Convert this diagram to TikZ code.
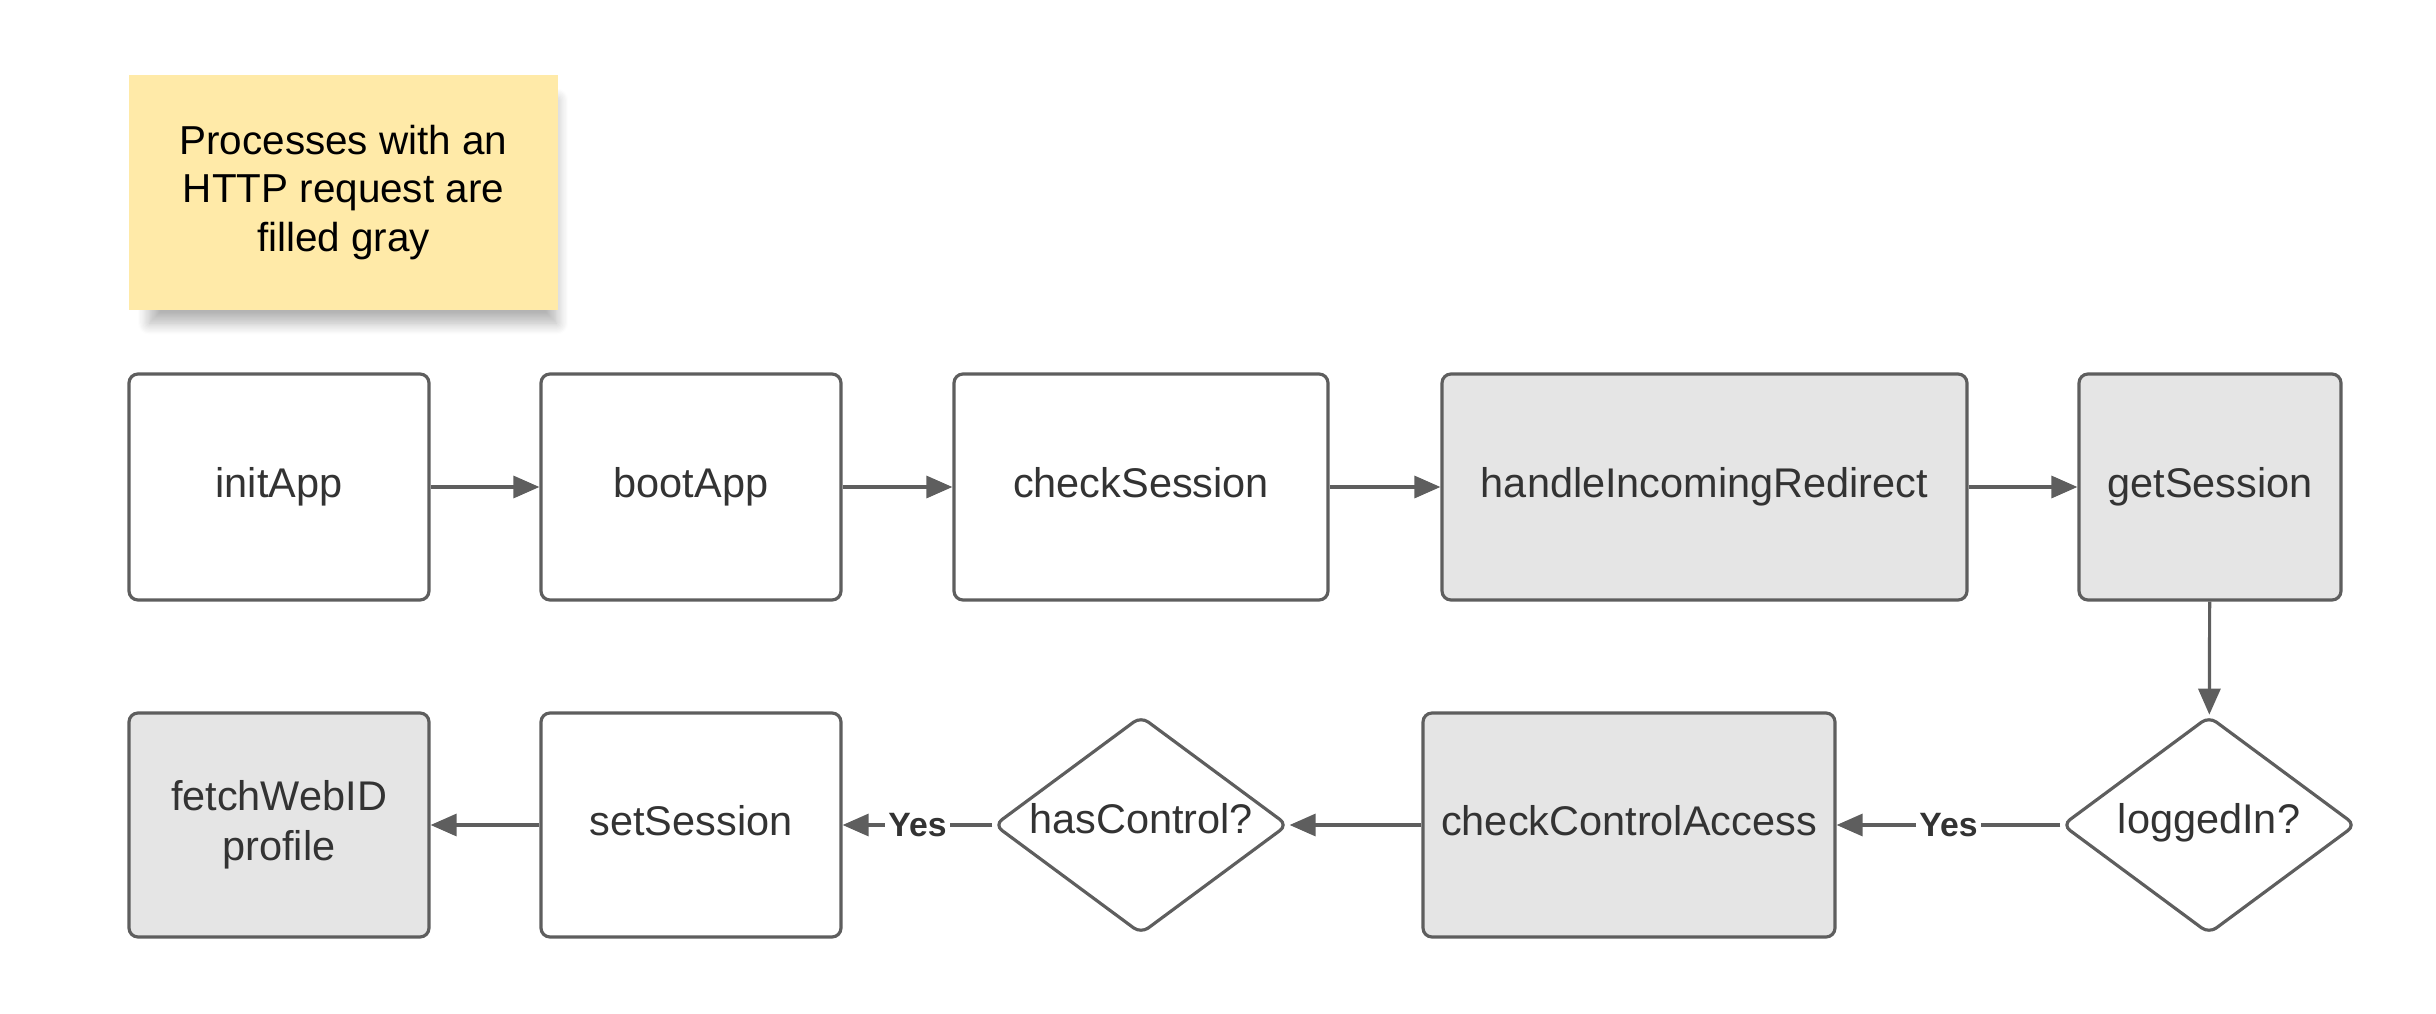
\documentclass[tikz,border=0pt]{standalone}
\usepackage{fontspec}
\setmainfont{Liberation Sans}
\usepackage{tikz}
\usetikzlibrary{arrows.meta, positioning, shapes.geometric, shadows.blur}

\definecolor{lineclr}{RGB}{94,94,94}
\definecolor{textclr}{RGB}{51,51,51}
\definecolor{httpfill}{RGB}{229,229,229}
\definecolor{notefill}{RGB}{255,234,168}

\begin{document}
\begin{tikzpicture}[
    proc/.style={draw=lineclr, line width=0.9pt, rectangle, rounded corners=0.09cm, align=center,
                 minimum height=2.26cm, text=textclr, font=\fontsize{11.8}{14.2}\selectfont, fill=white,
                 text height=0.30cm, text depth=0.09cm},
    http/.style={proc, fill=httpfill},
    cond/.style={draw=lineclr, line width=0.9pt, diamond, rounded corners=0.09cm, inner sep=0pt,
                 minimum width=2.94cm, minimum height=2.18cm, text=textclr,
                 font=\fontsize{11.8}{14.2}\selectfont, fill=white,
                 text height=0.30cm, text depth=0.13cm, text width=0pt},
    note/.style={rectangle, fill=notefill, align=center, minimum width=4.29cm, minimum height=2.35cm,
                 font=\fontsize{11.5}{13.8}\selectfont,
                 blur shadow={shadow xshift=0.1cm, shadow yshift=-0.2cm, shadow scale=0.95,
                              shadow blur steps=10, shadow blur radius=0.12cm, shadow opacity=30}},
    flow/.style={-{Triangle[length=0.26cm, width=0.22cm]}, draw=lineclr, line width=0.9pt},
    yes/.style={fill=white, inner sep=1pt, text=textclr, font=\fontsize{9.6}{11}\selectfont\bfseries}
]
\useasboundingbox (0,0) rectangle (24.36,-10.13);

\node[note] (key) at (3.435,-1.925) {Processes with an\\HTTP request are\\filled gray};

% first row
\node[proc, minimum width=3.00cm] (init)  at ( 2.79,-4.87) {initApp};
\node[proc, minimum width=3.00cm] (boot)  at ( 6.91,-4.87) {bootApp};
\node[proc, minimum width=3.74cm] (check) at (11.41,-4.87) {checkSession};
\node[http, minimum width=5.25cm] (redir) at (17.045,-4.87) {handleIncomingRedirect};
\node[http, minimum width=2.62cm] (getss) at (22.10,-4.87) {getSession};

% second row
\node[cond] (logged) at (22.09,-8.25) {\makebox[0pt]{loggedIn?}};
\node[http, minimum width=4.12cm, minimum height=2.24cm] (access) at (16.29,-8.25) {checkControlAccess};
\node[cond] (hasctl) at (11.41,-8.25) {\makebox[0pt]{hasControl?}};
\node[proc, minimum width=3.00cm, minimum height=2.24cm] (setss) at ( 6.91,-8.25) {setSession};
\node[http, minimum width=3.00cm, minimum height=2.24cm, text height={}, text depth={}] (webid) at ( 2.79,-8.25) {fetchWebID\\profile};

\draw[flow] (init) -- (boot);
\draw[flow] (boot) -- (check);
\draw[flow] (check) -- (redir);
\draw[flow] (redir) -- (getss);
\draw[flow] (getss) -- (logged);
\draw[flow] (logged) -- node[yes]{Yes} (access);
\draw[flow] (access) -- (hasctl);
\draw[flow] (hasctl) -- node[yes]{Yes} (setss);
\draw[flow] (setss) -- (webid);
\end{tikzpicture}
\end{document}
